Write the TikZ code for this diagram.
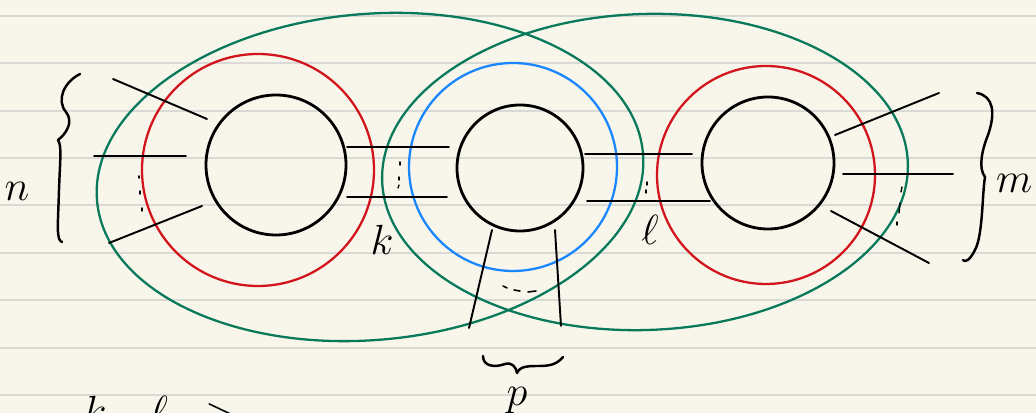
\documentclass[tikz,border=0pt]{standalone}
\usepackage{amsmath}
\usepackage{amssymb}
\usetikzlibrary{positioning}
\definecolor{paper}{HTML}{F8F6EA}
\definecolor{ruling}{HTML}{D9D9D6}
\definecolor{shellgreen}{HTML}{08795A}
\definecolor{ringred}{HTML}{D2141C}
\definecolor{ringblue}{HTML}{1A86FF}
\tikzset{
  every picture/.style={
    line join=round,
    line cap=round,
  },
  core/.style={draw=black, line width=0.8pt},
  shell/.style={line width=0.65pt},
  leg/.style={draw=black, line width=0.55pt},
  brace/.style={draw=black, line width=0.7pt},
  lbl/.style={font=\large, inner sep=0pt},
}

\begin{document}
\begin{tikzpicture}[x=0.01cm,y=-0.01cm]
\useasboundingbox[fill=paper] (0,0) rectangle (1036,413);
\clip (0,0) rectangle (1036,413);
% ruled paper
\foreach \y in {16,63,111,158,205,253,300,348,395}
  \draw[ruling, line width=0.55pt] (0,\y) -- (1036,\y);

% the two big shells
\draw[shellgreen, shell, rotate around={5:(370,177)}] (370,177) ellipse [x radius=274, y radius=163];
\draw[shellgreen, shell, rotate around={2:(645,172)}] (645,172) ellipse [x radius=263, y radius=158];

% rings
\draw[ringred, shell] (258,170) circle [radius=116];
\draw[ringblue, shell] (513,167) circle [radius=104];
\draw[ringred, shell] (766,175) circle [radius=109];

% cores
\draw[core] (276,165) circle [radius=70];
\draw[core] (520,168) circle [radius=63];
\draw[core] (768,163) circle [radius=66];

% legs
\draw[leg] (113,79) -- (207,119);
\draw[leg] (94,156) -- (186,156);
\draw[leg] (109,243) -- (202,206);
\draw[leg] (347,147) -- (449,147);
\draw[leg] (347,197) -- (447,197);
\draw[leg] (585,154) -- (692,154);
\draw[leg] (587,201) -- (710,201);
\draw[leg] (492,230) -- (469,328);
\draw[leg] (555,230) -- (561,326);
\draw[leg] (835,135) -- (939,93);
\draw[leg] (843,174) -- (953,174);
\draw[leg] (831,211) -- (929,263);

% dots between the legs
\foreach \xa/\ya/\xb/\yb in {139/176/139/178, 140/191/140/194, 142/208/142/211,
                   400/162/400/165, 399/177/399/180, 399/185/398/188,
                   647/182/647/185, 646/190/646/193,
                   902/187/901/192, 900/203/899/213, 897/222/897/225}
  \draw[leg, line width=0.4pt] (\xa,\ya) -- (\xb,\yb);
\draw[leg, line width=0.45pt] (503,286) -- (507,288) (514,290) -- (520,291) (528,292) -- (536,291);

% braces
\draw[brace] (80,74) .. controls (64,82) and (56,100) .. (66,112)
  .. controls (74,122) and (66,134) .. (58,140)
  .. controls (62,146) and (60,160) .. (59,190)
  .. controls (58,225) and (56,240) .. (62,242);
\draw[brace] (977,93) .. controls (993,96) and (996,112) .. (988,135)
  .. controls (982,150) and (978,168) .. (985,177)
  .. controls (982,195) and (983,235) .. (975,250)
  .. controls (970,260) and (965,263) .. (963,260);
\draw[brace] (483,356) .. controls (483,366) and (494,368) .. (505,364)
  .. controls (512,362) and (516,367) .. (517,373)
  .. controls (520,366) and (528,366) .. (540,366)
  .. controls (552,366) and (558,363) .. (563,357);

% labels
\node[lbl] (nlab) at (17,191) {$n$};
\node[lbl] (klab) at (382,240) {$k$};
\node[lbl] (llab) at (650,230) {$\ell$};
\node[lbl, anchor=east] (mlab) at (1033,183) {$m$};
\node[lbl, anchor=north] (plab) at (517,387) {$p$};

% bottom line, cut by the page edge
\node[lbl, anchor=north west] (kbot) at (83,395) {$k$};
\node[lbl, anchor=north west] (lbot) at (150,395) {$\ell$};
\node[lbl, anchor=north west] (gbot) at (205,403) {$\geq$};
\end{tikzpicture}
\end{document}
